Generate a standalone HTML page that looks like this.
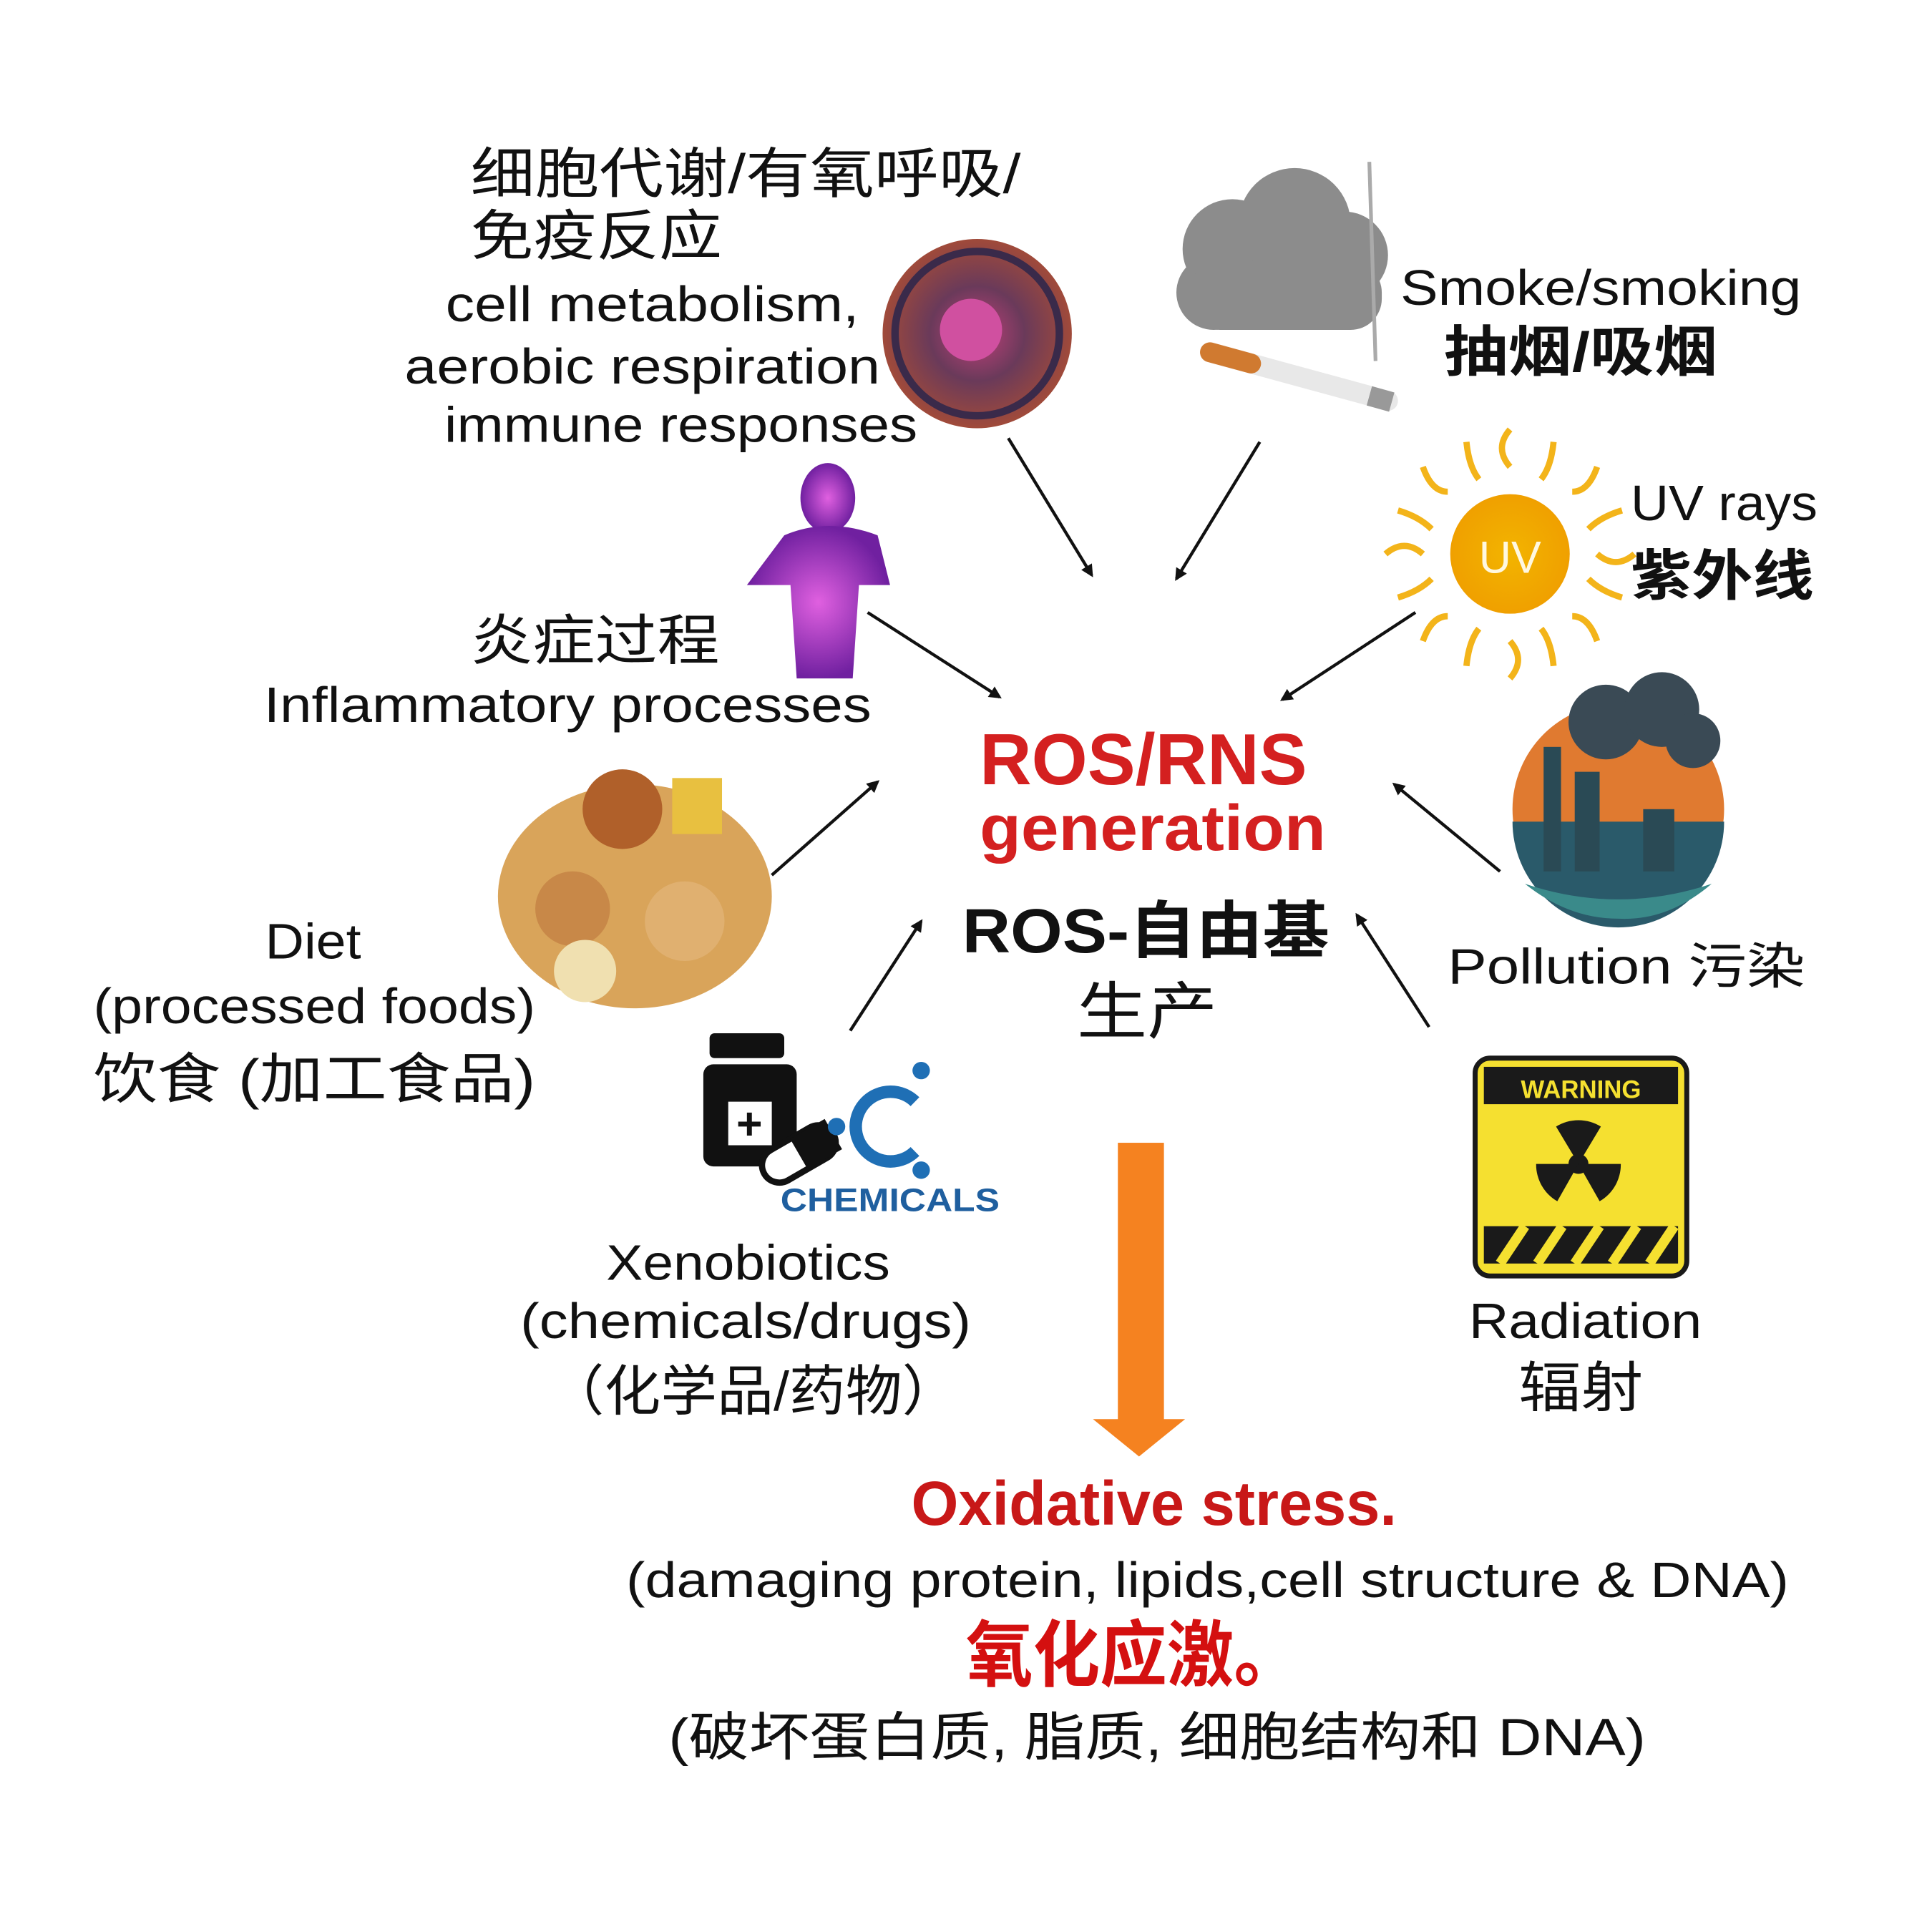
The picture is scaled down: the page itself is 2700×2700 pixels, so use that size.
<!DOCTYPE html>
<html><head><meta charset="utf-8"><style>
html,body{margin:0;padding:0;background:#fff;}
svg{display:block;}
text{font-family:"Liberation Sans","Noto Sans CJK SC",sans-serif;fill:#111;}
</style></head><body>
<svg width="2700" height="2700" viewBox="0 0 1552 1552" xmlns="http://www.w3.org/2000/svg">
<defs>
<marker id="ah" markerWidth="10" markerHeight="10" refX="8" refY="5" orient="auto" markerUnits="userSpaceOnUse"><path d="M0,0 L10,5 L0,10 Z" fill="#111"/></marker>
<radialGradient id="cell" cx="50%" cy="50%" r="50%"><stop offset="0" stop-color="#c0407a"/><stop offset="0.5" stop-color="#6a3a5a"/><stop offset="1" stop-color="#a04a3a"/></radialGradient>
<radialGradient id="sun"><stop offset="0" stop-color="#f2b400"/><stop offset="1" stop-color="#f0a000"/></radialGradient>
<radialGradient id="person"><stop offset="0" stop-color="#e060e0"/><stop offset="1" stop-color="#7020a0"/></radialGradient>
</defs>
<rect width="1552" height="1552" fill="#fff"/>

<!-- cell -->
<circle cx="785" cy="268" r="76" fill="url(#cell)"/>
<circle cx="785" cy="268" r="66" fill="none" stroke="#3a2a4a" stroke-width="6"/>
<circle cx="780" cy="265" r="25" fill="#d050a0"/>
<!-- cloud -->
<g fill="#8c8c8c">
<circle cx="990" cy="200" r="40"/><circle cx="1040" cy="180" r="45"/><circle cx="1080" cy="205" r="35"/><circle cx="975" cy="235" r="30"/><rect x="955" y="210" width="155" height="55" rx="25"/>
</g>
<line x1="1100" y1="130" x2="1105" y2="290" stroke="#aaa" stroke-width="3"/>
<line x1="972" y1="283" x2="1115" y2="322" stroke="#e8e8e8" stroke-width="16" stroke-linecap="round"/>
<line x1="972" y1="283" x2="1005" y2="292" stroke="#d07a30" stroke-width="16" stroke-linecap="round"/>
<line x1="1100" y1="318" x2="1118" y2="323" stroke="#999" stroke-width="16"/>
<!-- sun -->
<g stroke="#f3b41a" stroke-width="5" fill="none">
<path d="M1213,345 Q1200,360 1213,375"/><path d="M1213,515 Q1226,530 1213,545"/>
<path d="M1113,445 Q1128,432 1143,445"/><path d="M1283,445 Q1298,458 1313,445"/>
<path d="M1143,375 Q1150,395 1163,395"/><path d="M1263,495 Q1276,495 1283,515"/>
<path d="M1283,375 Q1276,395 1263,395"/><path d="M1163,495 Q1150,495 1143,515"/>
<path d="M1178,355 Q1180,375 1188,385"/><path d="M1248,355 Q1246,375 1238,385"/>
<path d="M1178,535 Q1180,515 1188,505"/><path d="M1248,535 Q1246,515 1238,505"/>
<path d="M1123,410 Q1140,415 1150,425"/><path d="M1303,410 Q1286,415 1276,425"/>
<path d="M1123,480 Q1140,475 1150,465"/><path d="M1303,480 Q1286,475 1276,465"/>
</g>
<circle cx="1213" cy="445" r="48" fill="url(#sun)"/>
<text x="1213" y="460" text-anchor="middle" font-size="36" style="fill:#fff8e0">UV</text>
<!-- person -->
<ellipse cx="665" cy="400" rx="22" ry="28" fill="url(#person)"/>
<path d="M630,430 Q665,415 705,430 L715,470 L690,470 L685,545 L640,545 L635,470 L600,470 Z" fill="url(#person)"/>
<!-- food -->
<ellipse cx="510" cy="720" rx="110" ry="90" fill="#d9a45a"/>
<circle cx="500" cy="650" r="32" fill="#b0602a"/><rect x="540" y="625" width="40" height="45" fill="#e8c040"/>
<circle cx="460" cy="730" r="30" fill="#c88848"/><circle cx="550" cy="740" r="32" fill="#e0b070"/><circle cx="470" cy="780" r="25" fill="#f0e0b0"/>
<!-- pollution -->
<circle cx="1300" cy="650" r="85" fill="#e07a30"/>
<path d="M1215,660 A85,85 0 0 0 1385,660 Z" fill="#2a5a6a"/>
<rect x="1240" y="600" width="14" height="100" fill="#2a4a55"/><rect x="1265" y="620" width="20" height="80" fill="#2a4a55"/><rect x="1320" y="650" width="25" height="50" fill="#2a4a55"/>
<g fill="#3a4a55"><circle cx="1290" cy="580" r="30"/><circle cx="1335" cy="570" r="30"/><circle cx="1360" cy="595" r="22"/></g>
<path d="M1225,710 Q1300,735 1375,710 Q1340,740 1300,738 Q1260,738 1225,710 Z" fill="#3a8a8a"/>
<!-- chemicals -->
<rect x="570" y="830" width="60" height="20" rx="4" fill="#111"/>
<rect x="565" y="855" width="75" height="82" rx="8" fill="#111"/>
<rect x="585" y="885" width="35" height="35" fill="#fff"/>
<text x="602" y="915" text-anchor="middle" font-size="36" font-weight="bold">+</text>
<g transform="rotate(-30 640 928)"><rect x="610" y="914" width="64" height="28" rx="14" fill="#fff" stroke="#111" stroke-width="5"/><rect x="642" y="914" width="32" height="28" rx="0" fill="#111"/></g>
<path d="M735,885 A28,28 0 1 0 735,925" fill="none" stroke="#1f6fb5" stroke-width="10"/>
<g fill="#1f6fb5"><circle cx="740" cy="860" r="7"/><circle cx="740" cy="940" r="7"/><circle cx="672" cy="905" r="7"/></g>
<text x="627" y="973" font-size="26" font-weight="bold" textLength="176" lengthAdjust="spacingAndGlyphs" style="fill:#1f5f9f">CHEMICALS</text>
<!-- warning -->
<rect x="1185" y="850" width="170" height="175" rx="12" fill="#f5e030" stroke="#1a1a1a" stroke-width="4"/>
<rect x="1192" y="857" width="156" height="30" fill="#1a1a1a"/>
<text x="1270" y="882" text-anchor="middle" font-size="20" font-weight="bold" style="fill:#f5e030">WARNING</text>
<g fill="#1a1a1a"><circle cx="1268" cy="935" r="8"/>
<path d="M1268,935 L1250,905 A34,34 0 0 1 1286,905 Z"/>
<path d="M1268,935 L1302,935 A34,34 0 0 1 1285,965 Z"/>
<path d="M1268,935 L1251,965 A34,34 0 0 1 1234,935 Z"/>
<rect x="1192" y="985" width="156" height="30"/></g>
<g stroke="#f5e030" stroke-width="8"><line x1="1205" y1="1015" x2="1225" y2="985"/><line x1="1235" y1="1015" x2="1255" y2="985"/><line x1="1265" y1="1015" x2="1285" y2="985"/><line x1="1295" y1="1015" x2="1315" y2="985"/><line x1="1325" y1="1015" x2="1345" y2="985"/></g>

<!-- arrows -->
<g stroke="#111" stroke-width="2.5" marker-end="url(#ah)">
<line x1="810" y1="352" x2="877" y2="462"/>
<line x1="1012" y1="355" x2="945" y2="465"/>
<line x1="1137" y1="492" x2="1030" y2="562"/>
<line x1="697" y1="492" x2="803" y2="560"/>
<line x1="620" y1="703" x2="705" y2="628"/>
<line x1="1205" y1="700" x2="1120" y2="630"/>
<line x1="683" y1="828" x2="740" y2="740"/>
<line x1="1148" y1="825" x2="1090" y2="735"/>
</g>
<!-- orange arrow -->
<rect x="898" y="918" width="37" height="224" fill="#f58220"/>
<path d="M878,1140 L952,1140 L915,1170 Z" fill="#f58220"/>

<!-- texts -->
<g font-size="44">
<text x="378" y="155" textLength="442" lengthAdjust="spacingAndGlyphs">细胞代谢/有氧呼吸/</text>
<text x="378" y="205" textLength="202" lengthAdjust="spacingAndGlyphs">免疫反应</text>
</g>
<g font-size="40">
<text x="358" y="258" textLength="332" lengthAdjust="spacingAndGlyphs">cell metabolism,</text>
<text x="325" y="308" textLength="382" lengthAdjust="spacingAndGlyphs">aerobic respiration</text>
<text x="357" y="355" textLength="380" lengthAdjust="spacingAndGlyphs">immune responses</text>
<text x="1125" y="245" textLength="322" lengthAdjust="spacingAndGlyphs">Smoke/smoking</text>
<text x="1160" y="298" font-size="44" font-weight="bold" textLength="220" lengthAdjust="spacingAndGlyphs">抽烟/吸烟</text>
<text x="1310" y="418" textLength="150" lengthAdjust="spacingAndGlyphs">UV rays</text>
<text x="1310" y="478" font-size="44" font-weight="bold" textLength="147" lengthAdjust="spacingAndGlyphs">紫外线</text>
<text x="378" y="530" font-size="44" textLength="200" lengthAdjust="spacingAndGlyphs">炎症过程</text>
<text x="212" y="580" textLength="488" lengthAdjust="spacingAndGlyphs">Inflammatory processes</text>
<text x="213" y="770" textLength="77" lengthAdjust="spacingAndGlyphs">Diet</text>
<text x="75" y="822" textLength="355" lengthAdjust="spacingAndGlyphs">(processed foods)</text>
<text x="75" y="882" font-size="44" textLength="355" lengthAdjust="spacingAndGlyphs">饮食 (加工食品)</text>
<text x="1163" y="790" textLength="287" lengthAdjust="spacingAndGlyphs">Pollution 污染</text>
<text x="487" y="1028" textLength="228" lengthAdjust="spacingAndGlyphs">Xenobiotics</text>
<text x="418" y="1075" textLength="362" lengthAdjust="spacingAndGlyphs">(chemicals/drugs)</text>
<text x="440" y="1133" font-size="44" textLength="330" lengthAdjust="spacingAndGlyphs">（化学品/药物）</text>
<text x="1180" y="1075" textLength="187" lengthAdjust="spacingAndGlyphs">Radiation</text>
<text x="1220" y="1130" font-size="44" textLength="100" lengthAdjust="spacingAndGlyphs">辐射</text>
<text x="503" y="1283" textLength="934" lengthAdjust="spacingAndGlyphs">(damaging protein, lipids,cell structure &amp; DNA)</text>
<text x="537" y="1410" font-size="42" textLength="785" lengthAdjust="spacingAndGlyphs">(破坏蛋白质, 脂质, 细胞结构和 DNA)</text>
</g>
<text x="787" y="630" font-size="58" font-weight="bold" textLength="263" lengthAdjust="spacingAndGlyphs" style="fill:#d42020">ROS/RNS</text>
<text x="787" y="683" font-size="52" font-weight="bold" textLength="278" lengthAdjust="spacingAndGlyphs" style="fill:#d42020">generation</text>
<text x="773" y="765" font-size="50" font-weight="bold" textLength="295" lengthAdjust="spacingAndGlyphs">ROS-自由基</text>
<text x="865" y="830" font-size="50" textLength="113" lengthAdjust="spacingAndGlyphs">生产</text>
<text x="732" y="1225" font-size="50" font-weight="bold" textLength="390" lengthAdjust="spacingAndGlyphs" style="fill:#c81818">Oxidative stress.</text>
<text x="776" y="1350" font-size="58" font-weight="bold" textLength="269" lengthAdjust="spacingAndGlyphs" style="fill:#d41010">氧化应激。</text>
</svg>
</body></html>
